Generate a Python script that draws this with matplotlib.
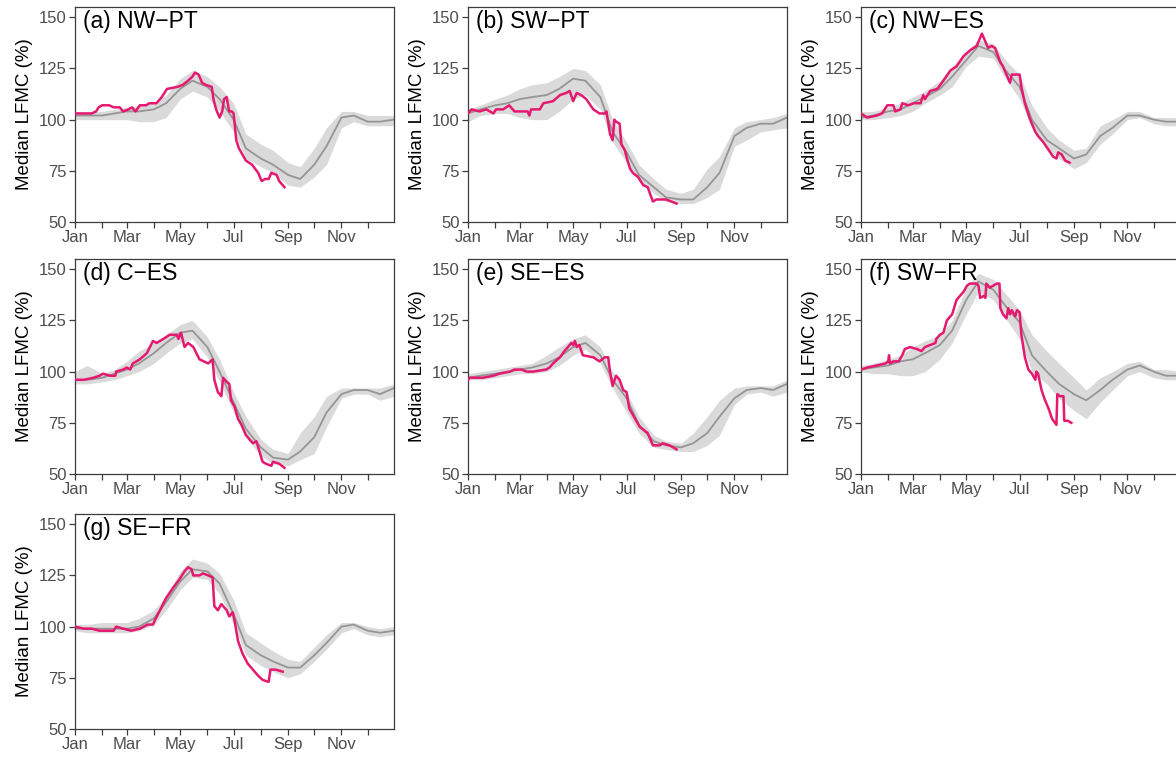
import matplotlib
matplotlib.use("Agg")
import matplotlib.pyplot as plt

plt.rcParams["font.family"] = ["Liberation Sans", "DejaVu Sans"]

# Day-of-year grid for the climatology (median and spread)
clim_days = [1, 15, 32, 46, 60, 74, 91, 105, 121, 135, 152, 166, 182,
             196, 213, 227, 244, 258, 274, 288, 305, 319, 335, 349, 365]

month_starts = [1, 32, 60, 91, 121, 152, 182, 213, 244, 274, 305, 335]
month_labels = ["Jan", "", "Mar", "", "May", "", "Jul", "", "Sep", "", "Nov", ""]
y_ticks = [50, 75, 100, 125, 150]

titles = ["(a) NW\u2212PT", "(b) SW\u2212PT", "(c) NW\u2212ES", "(d) C\u2212ES",
          "(e) SE\u2212ES", "(f) SW\u2212FR", "(g) SE\u2212FR"]

# --- (a) NW-PT ---
med_a = [102, 102, 102, 103, 104, 104, 105, 108, 115, 119, 116, 110, 100,
         86, 81, 78, 73, 71, 78, 87, 101, 102, 99, 99, 100]
lo_a = [100, 100, 100, 100, 100, 99, 99, 101, 110, 114, 111, 104, 94,
        81, 77, 74, 68, 67, 72, 78, 96, 99, 97, 97, 97]
hi_a = [104, 104, 104, 105, 106, 107, 108, 112, 120, 124, 121, 116, 108,
        93, 88, 85, 79, 77, 86, 96, 104, 104, 102, 102, 102]
yr_days_a = [1, 20, 25, 28, 32, 40, 45, 52, 56, 62, 66, 70, 75, 82, 86, 94, 100,
             106, 118, 124, 130, 135, 138, 142, 146, 150, 157, 159, 162, 166,
             169, 171, 174, 177, 180, 182, 185, 188, 192, 196, 203, 210, 214,
             218, 222, 225, 231, 234, 240]
yr_a = [103, 103, 104, 106, 107, 107, 106, 106, 104, 105, 106, 104, 107, 107,
        108, 108, 111, 115, 116, 117, 119, 121, 123, 122, 118, 117, 116, 110,
        105, 101, 104, 110, 111, 104, 104, 103, 90, 86, 83, 80, 78, 74, 70,
        71, 71, 74, 73, 70, 67]

# --- (b) SW-PT ---
med_b = [103, 105, 107, 108, 110, 111, 112, 115, 120, 119, 111, 94, 84,
         73, 67, 62, 61, 61, 67, 74, 92, 96, 98, 98, 101]
lo_b = [99, 102, 103, 103, 101, 100, 100, 104, 110, 112, 105, 89, 79,
        70, 64, 60, 59, 59, 62, 66, 87, 90, 94, 95, 96]
hi_b = [105, 107, 110, 112, 115, 117, 118, 121, 125, 124, 117, 100, 89,
        78, 71, 66, 64, 66, 76, 82, 96, 99, 100, 101, 103]
yr_days_b = [1, 5, 14, 22, 30, 33, 41, 48, 54, 69, 71, 73, 83, 87, 98, 106,
             113, 117, 121, 125, 130, 136, 144, 151, 157, 159, 163, 166, 168,
             170, 174, 176, 180, 183, 186, 189, 195, 201, 206, 212, 216, 227, 239]
yr_b = [103, 105, 104, 105, 103, 105, 105, 107, 104, 104, 102, 105, 105, 108,
        109, 112, 113, 114, 109, 113, 112, 110, 105, 103, 103, 104, 93, 90,
        100, 99, 98, 88, 85, 80, 76, 74, 72, 68, 67, 60, 61, 61, 59]

# --- (c) NW-ES ---
med_c = [101, 102, 104, 105, 108, 111, 115, 121, 129, 136, 133, 124, 116,
         100, 90, 86, 81, 83, 92, 96, 102, 102, 100, 99, 99]
lo_c = [100, 100, 101, 102, 104, 108, 112, 116, 126, 131, 130, 120, 110,
        96, 86, 81, 76, 79, 88, 93, 100, 101, 98, 97, 97]
hi_c = [104, 104, 106, 108, 111, 114, 119, 126, 133, 139, 137, 129, 122,
        107, 96, 90, 85, 86, 97, 100, 104, 104, 101, 101, 101]
yr_days_c = [1, 8, 19, 25, 31, 38, 40, 46, 48, 55, 61, 69, 72, 74, 80, 88, 95,
             103, 110, 118, 126, 133, 137, 139, 143, 146, 150, 154, 160, 163,
             169, 171, 173, 177, 182, 184, 188, 194, 200, 203, 209, 217, 220,
             224, 226, 230, 234, 239]
yr_c = [103, 101, 102, 103, 107, 107, 104, 105, 108, 107, 108, 108, 112, 110,
        114, 115, 119, 124, 126, 131, 134, 136, 140, 142, 138, 135, 136, 135,
        128, 126, 120, 118, 122, 122, 122, 116, 108, 100, 94, 92, 89, 84, 82,
        81, 84, 83, 80, 79]

# --- (d) C-ES ---
med_d = [96, 96, 97, 99, 101, 104, 109, 114, 119, 120, 112, 100, 85,
         72, 63, 58, 57, 61, 68, 80, 89, 91, 91, 89, 92]
lo_d = [94, 94, 95, 96, 98, 100, 104, 109, 114, 116, 107, 95, 80,
        68, 59, 55, 54, 57, 60, 73, 87, 89, 89, 86, 88]
hi_d = [100, 103, 99, 101, 105, 110, 114, 118, 123, 125, 117, 106, 90,
        78, 67, 62, 60, 70, 78, 88, 92, 92, 92, 92, 94]
yr_days_d = [1, 11, 22, 29, 33, 41, 47, 48, 56, 60, 64, 67, 75, 83, 90, 94, 102,
             109, 117, 119, 122, 126, 130, 136, 143, 153, 158, 160, 164, 168,
             170, 174, 177, 179, 183, 187, 191, 196, 204, 208, 215, 219, 225,
             227, 234, 240]
yr_d = [96, 96, 97, 98, 99, 98, 98, 100, 101, 102, 101, 104, 106, 109, 115,
        114, 116, 118, 118, 116, 119, 112, 114, 112, 106, 104, 106, 96, 90,
        88, 97, 95, 94, 86, 83, 77, 74, 69, 65, 66, 56, 55, 54, 56, 55, 53]

# --- (e) SE-ES ---
med_e = [97, 98, 99, 100, 101, 102, 104, 107, 112, 114, 108, 96, 87,
         74, 66, 64, 63, 65, 70, 78, 87, 91, 92, 91, 94]
lo_e = [96, 96, 97, 98, 99, 99, 100, 103, 108, 111, 104, 92, 80,
        70, 63, 62, 61, 61, 64, 69, 84, 89, 90, 88, 90]
hi_e = [99, 100, 101, 102, 103, 104, 108, 112, 116, 118, 112, 100, 90,
        78, 69, 66, 65, 70, 78, 86, 92, 93, 93, 93, 96]
yr_days_e = [1, 3, 18, 30, 37, 49, 54, 62, 68, 75, 90, 94, 98, 106, 111, 115,
             119, 121, 123, 125, 128, 132, 144, 151, 157, 161, 163, 166, 170,
             174, 178, 182, 185, 189, 197, 206, 212, 220, 223, 231, 239]
yr_e = [96, 97, 97, 98, 99, 100, 101, 101, 100, 100, 101, 102, 104, 107, 110,
        112, 114, 113, 115, 112, 113, 108, 107, 105, 107, 107, 100, 93, 98,
        96, 91, 90, 82, 79, 73, 70, 64, 64, 65, 64, 62]

# --- (f) SW-FR ---
med_f = [101, 102, 103, 105, 106, 109, 113, 120, 135, 144, 140, 132, 124,
         108, 100, 94, 89, 86, 91, 96, 101, 103, 100, 98, 98]
lo_f = [100, 99, 99, 98, 98, 100, 106, 114, 128, 139, 135, 126, 116,
        100, 94, 87, 81, 77, 85, 91, 98, 100, 97, 96, 96]
hi_f = [103, 104, 106, 108, 112, 115, 118, 125, 141, 148, 145, 138, 130,
        118, 110, 104, 97, 91, 97, 100, 104, 105, 101, 101, 100]
yr_days_f = [1, 8, 19, 29, 32, 33, 34, 38, 44, 48, 51, 57, 65, 70, 74, 80, 86,
             87, 91, 95, 99, 105, 110, 118, 122, 125, 133, 135, 137, 141, 143,
             144, 148, 152, 156, 159, 160, 163, 167, 169, 171, 173, 177, 179,
             182, 184, 188, 192, 196, 200, 201, 203, 207, 211, 215, 219, 224,
             225, 228, 232, 233, 237, 241]
yr_f = [101, 102, 103, 104, 105, 108, 104, 105, 105, 108, 111, 112, 111, 110,
        112, 113, 114, 116, 118, 119, 125, 128, 135, 139, 142, 143, 143, 142,
        136, 137, 136, 143, 141, 142, 143, 143, 131, 128, 126, 131, 128, 130,
        127, 130, 129, 118, 107, 101, 99, 96, 100, 99, 91, 86, 82, 77, 74, 89,
        88, 88, 76, 76, 75]

# --- (g) SE-FR ---
med_g = [99, 99, 99, 99, 99, 100, 104, 112, 122, 128, 127, 121, 106,
         91, 86, 83, 80, 80, 86, 92, 100, 101, 98, 97, 98]
lo_g = [98, 97, 97, 97, 97, 98, 101, 108, 118, 124, 123, 116, 101,
        86, 81, 78, 75, 77, 83, 89, 97, 99, 96, 95, 96]
hi_g = [101, 101, 102, 102, 102, 104, 108, 115, 127, 133, 131, 126, 113,
        97, 92, 88, 84, 83, 90, 96, 102, 102, 100, 99, 100]
yr_days_g = [1, 11, 20, 29, 45, 48, 56, 65, 75, 84, 90, 92, 98, 105, 113, 120,
             126, 130, 134, 136, 143, 147, 153, 158, 160, 164, 168, 174, 177,
             181, 183, 187, 192, 198, 204, 210, 215, 222, 224, 230, 238]
yr_g = [100, 99, 99, 98, 98, 100, 99, 98, 99, 101, 101, 103, 108, 114, 119,
        123, 127, 129, 128, 125, 125, 126, 125, 124, 110, 108, 111, 108, 105,
        107, 103, 93, 87, 82, 79, 76, 74, 73, 79, 79, 78]

panels = [
    (med_a, lo_a, hi_a, yr_days_a, yr_a),
    (med_b, lo_b, hi_b, yr_days_b, yr_b),
    (med_c, lo_c, hi_c, yr_days_c, yr_c),
    (med_d, lo_d, hi_d, yr_days_d, yr_d),
    (med_e, lo_e, hi_e, yr_days_e, yr_e),
    (med_f, lo_f, hi_f, yr_days_f, yr_f),
    (med_g, lo_g, hi_g, yr_days_g, yr_g),
]

W, H = 1176, 758
fig = plt.figure(figsize=(W / 100, H / 100), dpi=100)

col_left = [75, 468, 861]
row_top = [7, 259, 514]
ax_w, ax_h = 319, 215

spine_col = "#3c3c3c"
tick_col = "#4d4d4d"
band_col = "#dadada"
med_col = "#959595"
year_col = "#e5196f"

for i, (med, lo, hi, ydays, yvals) in enumerate(panels):
    r, c = divmod(i, 3)
    rect = [col_left[c] / W, 1 - (row_top[r] + ax_h) / H, ax_w / W, ax_h / H]
    ax = fig.add_axes(rect)
    ax.fill_between(clim_days, lo, hi, color=band_col, lw=0, zorder=1)
    ax.plot(clim_days, med, color=med_col, lw=1.3, zorder=2)
    ax.plot(ydays, yvals, color=year_col, lw=1.8, zorder=3)

    ax.set_xlim(1, 365)
    ax.set_ylim(50, 155)
    ax.set_xticks(month_starts)
    ax.set_xticklabels(month_labels)
    ax.set_yticks(y_ticks)
    ax.tick_params(direction="out", length=4.5, width=0.9, color=spine_col,
                   labelsize=12, labelcolor=tick_col, pad=1.5)
    for sp in ax.spines.values():
        sp.set_color(spine_col)
        sp.set_linewidth(0.9)
    ax.set_ylabel("Median LFMC (%)", fontsize=13.5, color="black", labelpad=4)
    ax.text(0.025, 0.985, titles[i], transform=ax.transAxes, ha="left",
            va="top", fontsize=16.5, color="black")

fig.savefig("out.png", dpi=100)
